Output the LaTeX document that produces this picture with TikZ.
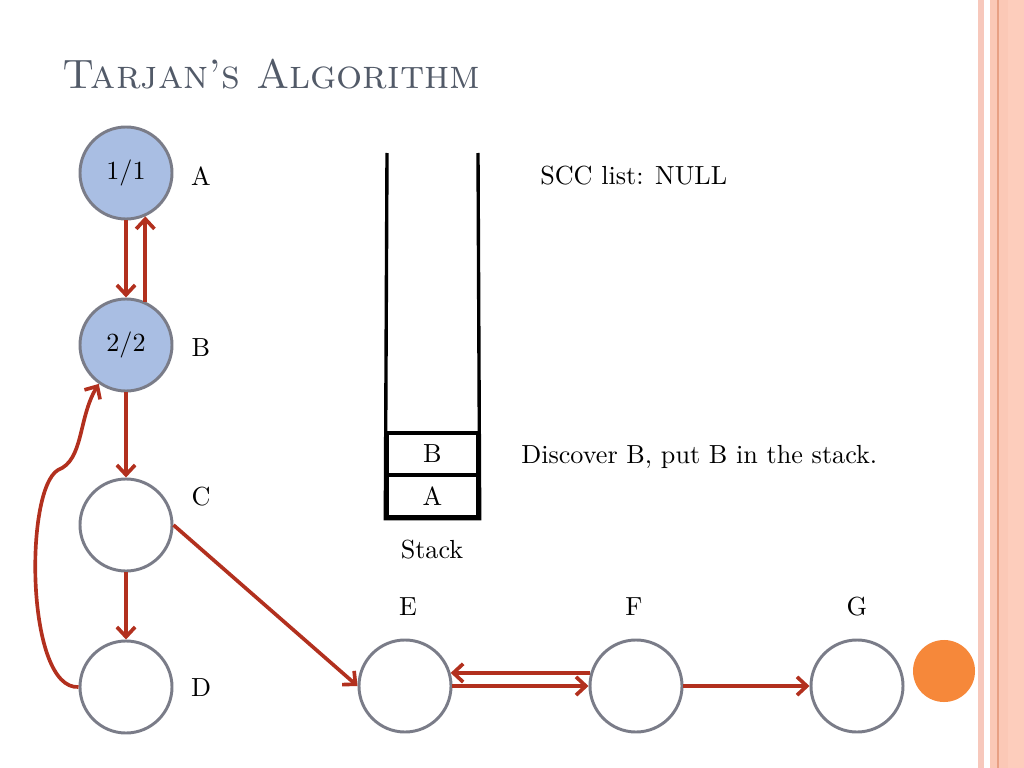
\documentclass[tikz,border=0pt]{standalone}
\usepackage{graphicx}
\usepackage{xcolor}
\usepackage{tikz}
\usetikzlibrary{arrows.meta,positioning}

\definecolor{vfill}{RGB}{169,190,227}
\definecolor{vgray}{RGB}{122,124,136}
\definecolor{ered}{RGB}{178,48,30}
\definecolor{ttlcol}{RGB}{82,90,104}
\definecolor{orng}{RGB}{246,136,58}
\definecolor{bordA}{RGB}{247,200,188}
\definecolor{bordB}{RGB}{251,200,182}
\definecolor{bordC}{RGB}{253,205,188}
\definecolor{bordL}{RGB}{232,160,132}
\newcommand{\bt}[1]{\scalebox{1.86}{#1}}

\begin{document}
\begin{tikzpicture}[x=0.025cm,y=-0.025cm,
  vtx/.style={circle,draw=vgray,line width=2.1pt,minimum size=2.3cm,inner sep=0pt},
  lbl/.style={inner sep=0pt,font=\normalsize},
  edge/.style={ered,line width=2.6pt,-{Straight Barb[length=7pt,width=13pt]}},
  cell/.style={draw,line width=2.4pt,minimum width=2.275cm,minimum height=1.05cm,inner sep=0pt}]
 \useasboundingbox (0,0) rectangle (1024,768);
 % slide border
 \fill[bordA] (978,0) rectangle (984,768);
 \fill[bordB] (990,0) rectangle (1024,768);
 \fill[bordC] (1008,0) rectangle (1024,768);
 \draw[bordL,line width=0.8pt] (998,0) -- (998,768);
 \node[anchor=west,inner sep=0pt,text=ttlcol,font=\fontsize{29.2}{34}\selectfont] (ttl) at (62,74) {\textsc{Tarjan's Algorithm}};
 % vertices
 \foreach \n/\x/\y/\f in {A/126/173/vfill, B/126/345/vfill, C/126/525/white, D/126/687/white, E/405/686/white, F/636/686/white, G/857/686/white}
   \node[vtx,fill=\f] (\n) at (\x,\y) {};
 \node[lbl] at (A) {\bt{1/1}};
 \node[lbl] at (B) {\bt{2/2}};
 \foreach \n/\x/\y in {A/201/176, B/201/348, C/201/497, D/201/688, E/408/607, F/634/607, G/857/607}
   \node[lbl] (l\n) at (\x,\y) {\bt{\n}};
 \node[circle,fill=orng,minimum size=1.55cm,inner sep=0pt] (dot) at (944,671) {};
 % edges
 \draw[edge] (A.south) -- (B.north);
 \draw[edge] (B.66) -- (A.-66);
 \draw[edge] (B.south) -- (C.north);
 \draw[edge] (C.south) -- (D.north);
 \draw[edge] (D.west) .. controls (26,690) and (24,490) .. (58,470) .. controls (84,460) and (78,418) .. (B.235);
 \draw[edge] (C.east) -- (E.west);
 \draw[edge] (E.east) -- (F.west);
 \draw[edge] (F.164) -- (E.16);
 \draw[edge] (F.east) -- (G.west);
 % stack
 \node[cell] (sB) at (432.5,454) {\bt{B}};
 \node[cell] (sA) at (432.5,496) {\bt{A}};
 \coordinate (stl) at (387,153);
 \coordinate (str) at (478,153);
 \draw[line width=2.4pt] (stl) -- (sA.south west) -- (sA.south east) -- (str);
 \node[lbl] (stk) at (432,550) {\bt{Stack}};
 \node[lbl,anchor=west] (scc) at (540,176) {\bt{SCC list: NULL}};
 \node[lbl,anchor=west] (msg) at (521,457) {\bt{Discover B, put B in the stack.}};
\end{tikzpicture}
\end{document}
